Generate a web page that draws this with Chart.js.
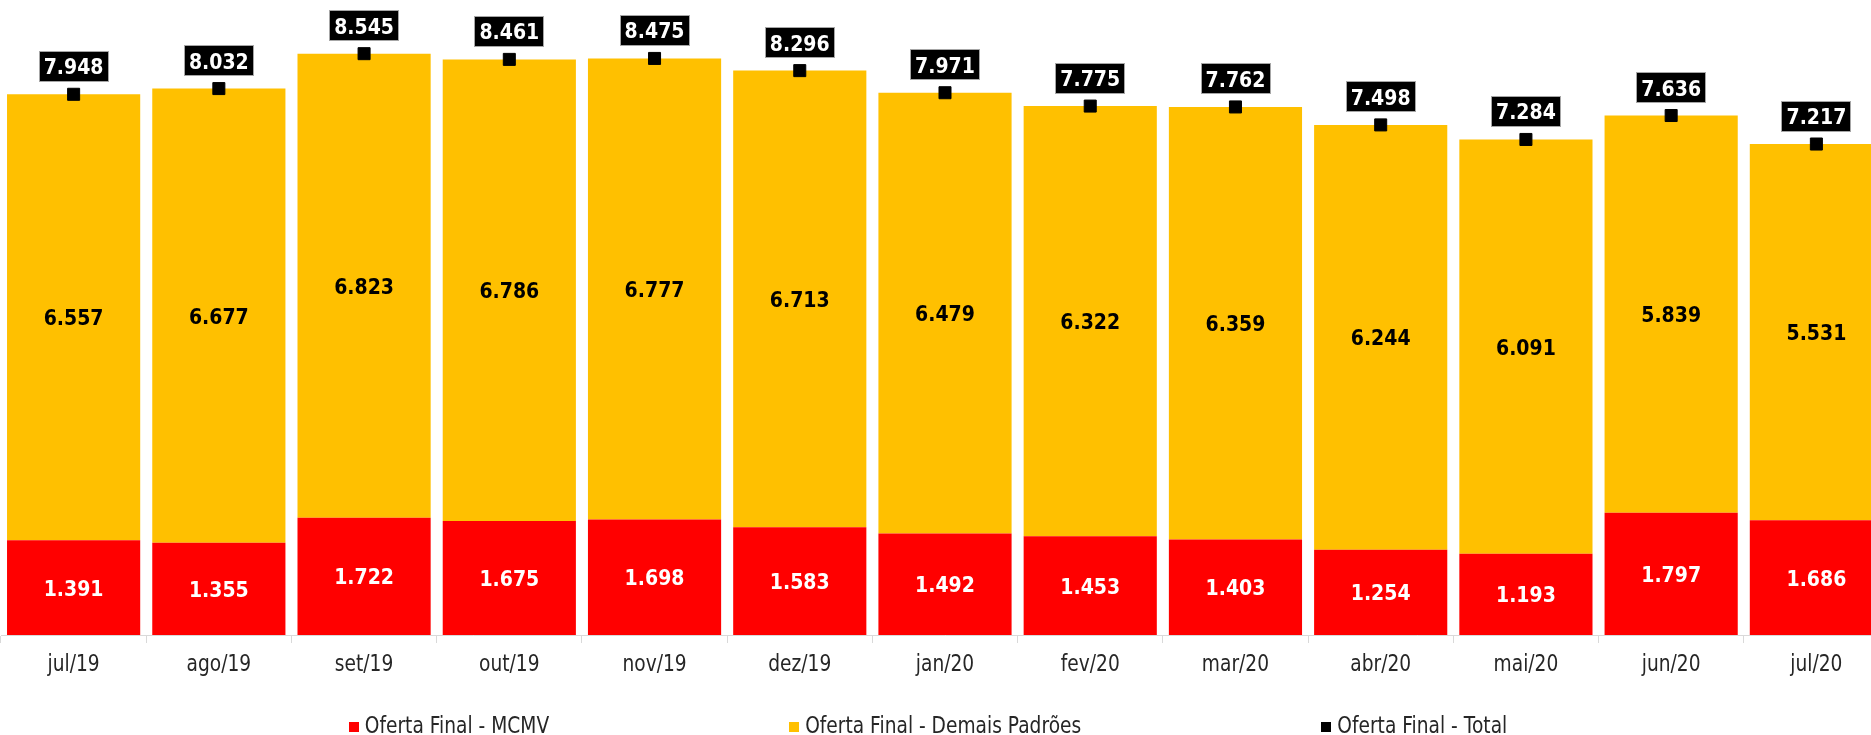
<!DOCTYPE html>
<html><head><meta charset="utf-8">
<script src="https://cdn.jsdelivr.net/npm/chart.js@4/dist/chart.umd.min.js"></script>
<style>
html,body{margin:0;padding:0;overflow:hidden;background:#fff}
#wrap{width:1871px;height:735px;overflow:hidden;position:relative}
canvas{display:block}
</style></head><body><div id="wrap"><canvas id="c" width="1890" height="735"></canvas></div>
<script>
const categories = ['jul/19','ago/19','set/19','out/19','nov/19','dez/19','jan/20','fev/20','mar/20','abr/20','mai/20','jun/20','jul/20'];
const mcmv = [1391,1355,1722,1675,1698,1583,1492,1453,1403,1254,1193,1797,1686];
const demais = [6557,6677,6823,6786,6777,6713,6479,6322,6359,6244,6091,5839,5531];
const total = [7948,8032,8545,8461,8475,8296,7971,7775,7762,7498,7284,7636,7217];
const seriesNames = ['Oferta Final - MCMV','Oferta Final - Demais Padrões','Oferta Final - Total'];
const seriesColors = ['#FF0000','#FFC000','#000000'];

function fmt(v){ const t = Math.floor(v/1000), r = v%1000; return t>0 ? t + '.' + String(r).padStart(3,'0') : String(r); }

const REG = 'DejaVu Sans, Verdana, sans-serif';
const SX_REG = 0.81, SX_BOLD = 0.86;

function txt(ctx, s, x, y, size, bold, color, sx, align){
  ctx.save();
  ctx.translate(x, y);
  ctx.scale(sx, 1);
  ctx.font = (bold ? 'bold ' : '') + size + 'px ' + REG;
  ctx.fillStyle = color;
  ctx.textAlign = align || 'center';
  ctx.textBaseline = 'alphabetic';
  ctx.fillText(s, 0, 0.365*size);
  ctx.restore();
}
function tw(ctx, s, size, bold, sx){
  ctx.save();
  ctx.font = (bold ? 'bold ' : '') + size + 'px ' + REG;
  const w = ctx.measureText(s).width * sx;
  ctx.restore();
  return w;
}

const labelPlugin = {
  id: 'labels',
  afterDraw(chart){
    const ctx = chart.ctx;
    const ca = chart.chartArea;
    [0,1].forEach(di => {
      const meta = chart.getDatasetMeta(di);
      const vals = chart.data.datasets[di].data;
      meta.data.forEach((el, i) => {
        const cy = (el.y + el.base)/2;
        txt(ctx, fmt(vals[i]), el.x, cy, 22, true, di===0 ? '#FFFFFF' : '#000000', SX_BOLD);
      });
    });
    const tm = chart.getDatasetMeta(2);
    tm.data.forEach((el, i) => {
      const s = fmt(total[i]);
      const w = tw(ctx, s, 22, true, SX_BOLD) + 10;
      const h = 31;
      const bottom = el.y - 12.5;
      ctx.save();
      ctx.fillStyle = '#000';
      ctx.fillRect(Math.round(el.x - w/2), Math.round(bottom - h), Math.round(w), h);
      ctx.strokeStyle = '#A6A6A6';
      ctx.lineWidth = 1;
      ctx.strokeRect(Math.round(el.x - w/2)+0.5, Math.round(bottom - h)+0.5, Math.round(w)-1, h-1);
      ctx.restore();
      txt(ctx, s, el.x, bottom - h/2, 22, true, '#FFFFFF', SX_BOLD);
    });
    const xs = chart.scales.x;
    categories.forEach((c, i) => {
      txt(ctx, c, xs.getPixelForValue(i), ca.bottom + 28, 23, false, '#262626', SX_REG);
    });
    const size = 23, sq = 10, gapSq = 6, gapItem = 240;
    const widths = seriesNames.map(n => sq + gapSq + tw(ctx, n, size, false, SX_REG));
    const totalW = widths.reduce((a,b)=>a+b,0) + gapItem*(seriesNames.length-1);
    let x = 928 - totalW/2;
    const ly = 725;
    seriesNames.forEach((n, i) => {
      ctx.fillStyle = seriesColors[i];
      ctx.fillRect(Math.round(x), ly - 3, sq, sq);
      txt(ctx, n, x + sq + gapSq, ly, size, false, '#262626', SX_REG, 'left');
      x += widths[i] + gapItem;
    });
  }
};

new Chart(document.getElementById('c'), {
  data: {
    labels: categories,
    datasets: [
      { type:'bar', label: seriesNames[0], data: mcmv, backgroundColor: seriesColors[0], borderWidth: 0, stack: 'ofertas', order: 1 },
      { type:'bar', label: seriesNames[1], data: demais, backgroundColor: seriesColors[1], borderWidth: 0, stack: 'ofertas', order: 1 },
      { type:'line', label: seriesNames[2], data: total, showLine: false, pointStyle: 'rect', pointRadius: 8.5,
        pointBackgroundColor: '#000', pointBorderColor: '#000', pointBorderWidth: 1, stack: 'total', order: -1, clip: false }
    ]
  },
  options: {
    responsive: false,
    devicePixelRatio: 1,
    animation: false,
    events: [],
    layout: { autoPadding: false, padding: { left: 1, right: 1, top: 0, bottom: 92 } },
    datasets: { bar: { categoryPercentage: 1.0, barPercentage: 0.917 } },
    plugins: { legend: { display: false }, tooltip: { enabled: false } },
    scales: {
      x: {
        stacked: true,
        offset: true,
        grid: { display: true, offset: true, drawOnChartArea: false, drawTicks: true, tickLength: 8, color: '#D9D9D9' },
        border: { display: true, color: '#D9D9D9', width: 1 },
        ticks: { display: false }
      },
      y: { stacked: true, display: false, min: 0, max: 9334 }
    }
  },
  plugins: [labelPlugin]
});
</script>
</body></html>
